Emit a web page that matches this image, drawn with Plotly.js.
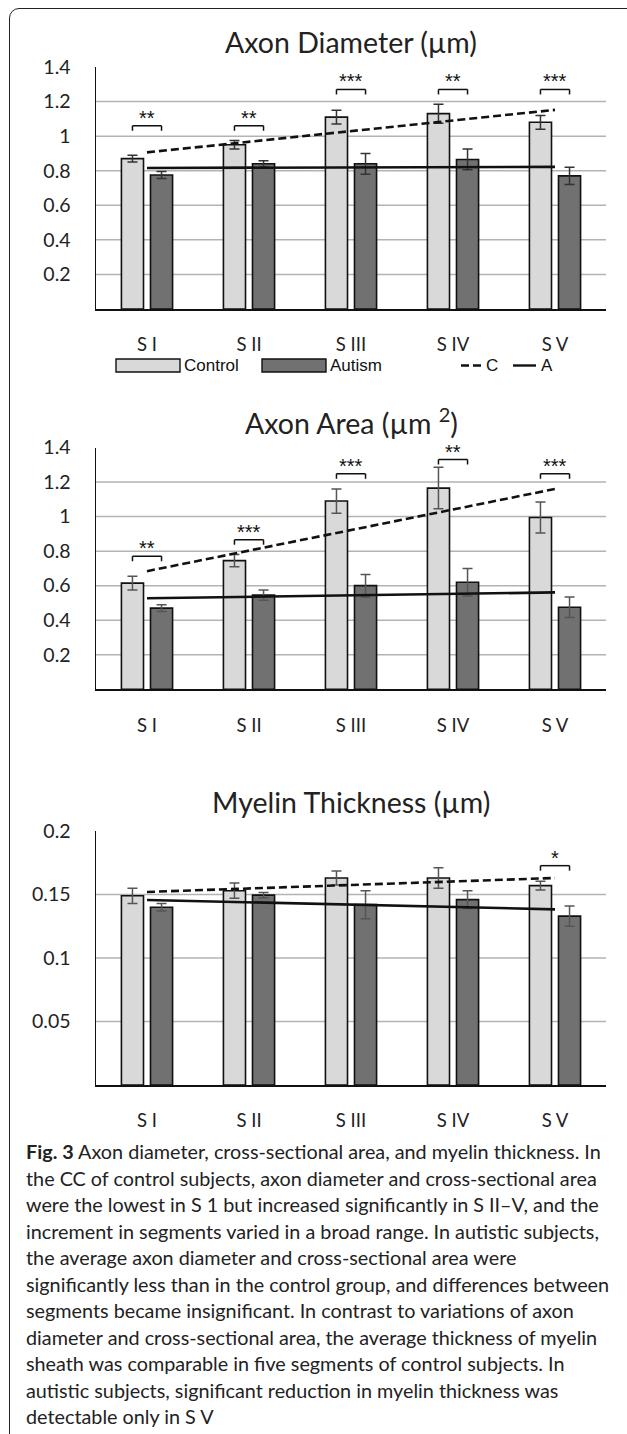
<!DOCTYPE html>
<html><head><meta charset="utf-8">
<script src="https://cdn.plot.ly/plotly-3.0.1.min.js"></script>
<style>
body{margin:0;background:#fff;}
#wrap{position:relative;width:627px;height:1434px;overflow:hidden;background:#fff;}
#chart{position:absolute;left:0;top:0;width:627px;height:1434px;}
#frame{position:absolute;left:9px;top:8px;width:640px;height:1440px;border:1.6px solid #222;border-radius:10px;pointer-events:none;}
#caption{position:absolute;left:26px;top:1138px;font-family:Lato,sans-serif;font-size:19.8px;line-height:26.5px;color:#222;white-space:nowrap;}
</style></head>
<body><div id="wrap"><div id="chart"></div>
<div id="caption"><b>Fig. 3</b> Axon diameter, cross-sectional area, and myelin thickness. In<br>the CC of control subjects, axon diameter and cross-sectional area<br>were the lowest in S 1 but increased significantly in S II–V, and the<br>increment in segments varied in a broad range. In autistic subjects,<br>the average axon diameter and cross-sectional area were<br>significantly less than in the control group, and differences between<br>segments became insignificant. In contrast to variations of axon<br>diameter and cross-sectional area, the average thickness of myelin<br>sheath was comparable in five segments of control subjects. In<br>autistic subjects, significant reduction in myelin thickness was<br>detectable only in S V</div>
<div id="frame"></div></div>
<script>
// ---- data ----
const segments = ["S I", "S II", "S III", "S IV", "S V"];

const diamControl    = [0.87, 0.95, 1.11, 1.13, 1.08];
const diamControlErr = [0.02, 0.025, 0.04, 0.055, 0.04];
const diamAutism     = [0.775, 0.84, 0.84, 0.865, 0.77];
const diamAutismErr  = [0.02, 0.018, 0.06, 0.06, 0.05];
const diamTrendC     = [0.906, 1.152];
const diamTrendA     = [0.816, 0.822];
const diamSig        = ["**", "**", "***", "**", "***"];
const diamSigY       = [1.06, 1.06, 1.27, 1.27, 1.27];

const areaControl    = [0.615, 0.745, 1.09, 1.165, 0.995];
const areaControlErr = [0.04, 0.035, 0.07, 0.12, 0.09];
const areaAutism     = [0.47, 0.545, 0.60, 0.62, 0.475];
const areaAutismErr  = [0.02, 0.03, 0.065, 0.08, 0.06];
const areaTrendC     = [0.684, 1.16];
const areaTrendA     = [0.527, 0.561];
const areaSig        = ["**", "***", "***", "**", "***"];
const areaSigY       = [0.77, 0.866, 1.248, 1.33, 1.248];

const myelinControl    = [0.149, 0.153, 0.163, 0.163, 0.157];
const myelinControlErr = [0.006, 0.006, 0.0055, 0.008, 0.0035];
const myelinAutism     = [0.140, 0.1495, 0.142, 0.146, 0.133];
const myelinAutismErr  = [0.003, 0.002, 0.011, 0.007, 0.008];
const myelinTrendC     = [0.152, 0.163];
const myelinTrendA     = [0.1457, 0.1383];
const myelinSig        = ["", "", "", "", "*"];
const myelinSigY       = [null, null, null, null, 0.1727];

const axonTicks     = [0.2, 0.4, 0.6, 0.8, 1.0, 1.2, 1.4];
const axonTickText  = ["0.2", "0.4", "0.6", "0.8", "1", "1.2", "1.4"];
const myelinTicks    = [0.05, 0.1, 0.15, 0.2];
const myelinTickText = ["0.05", "0.1", "0.15", "0.2"];

const titles = ["Axon Diameter (µm)", "Axon Area (µm <sup>2</sup>)", "Myelin Thickness (µm)"];
const legendNames = ["Control", "Autism", "C", "A"];

// ---- layout helpers ----
const W = 627, H = 1434;
const px = x => x / W;
const py = y => 1 - y / H;
const FONT = "Lato, sans-serif";
const BARGAP = 0.43;
const SHIFT = (1 - BARGAP) / 4;
const CTRL_FILL = "#d9d9d9", AUT_FILL = "#717171";

const traces = [];
const shapes = [];
const annotations = [];
const layout = {
  width: W, height: H,
  margin: {l: 0, r: 0, t: 0, b: 0},
  paper_bgcolor: "rgba(0,0,0,0)", plot_bgcolor: "rgba(0,0,0,0)",
  barmode: "group", bargap: BARGAP, bargroupgap: 0.24,
  showlegend: false,
  font: {family: FONT, color: "#222"},
  shapes: shapes, annotations: annotations
};

function addChart(i, d) {
  const sfx = i === 0 ? "" : String(i + 1);
  const xa = "x" + sfx, ya = "y" + sfx;
  layout["xaxis" + sfx] = {
    domain: [px(96), px(606)], anchor: ya, type: "category",
    showgrid: false, zeroline: false, showline: true, linecolor: "#111", linewidth: 2,
    ticks: "", ticklabelstandoff: 18, tickfont: {family: FONT, size: 18.5, color: "#222"},
    fixedrange: true
  };
  layout["yaxis" + sfx] = {
    domain: [py(d.bottomPx), py(d.topPx)], anchor: xa, range: d.range,
    showgrid: false, zeroline: false, showline: true, linecolor: "#111", linewidth: 1.5,
    ticks: "", tickmode: "array", tickvals: d.ticks, ticktext: d.tickText,
    ticklabelstandoff: 20, tickfont: {family: FONT, size: 19.5, color: "#222"},
    fixedrange: true
  };
  // gridlines (all ticks below the top of the axis)
  d.ticks.forEach(t => {
    if (t >= d.range[1] - 1e-9) return;
    shapes.push({type: "line", xref: xa + " domain", yref: ya, x0: 0, x1: 1, y0: t, y1: t,
      line: {color: "#b3b3b3", width: 1.5}, layer: "below"});
  });
  traces.push({
    type: "bar", name: legendNames[0], x: segments, y: d.control, xaxis: xa, yaxis: ya,
    marker: {color: CTRL_FILL, line: {color: "#111", width: 1.6}},
    error_y: {type: "data", array: d.controlErr, visible: true, color: d.errColor, thickness: 1.5, width: 5}
  });
  traces.push({
    type: "bar", name: legendNames[1], x: segments, y: d.autism, xaxis: xa, yaxis: ya,
    marker: {color: AUT_FILL, line: {color: "#111", width: 1.6}},
    error_y: {type: "data", array: d.autismErr, visible: true, color: d.errColor, thickness: 1.5, width: 5}
  });
  const ends = [segments[0], segments[segments.length - 1]];
  traces.push({type: "scatter", mode: "lines", name: legendNames[2], x: ends, y: d.trendC,
    xaxis: xa, yaxis: ya, line: {color: "#111", width: 2.6, dash: "8px,4px"}});
  traces.push({type: "scatter", mode: "lines", name: legendNames[3], x: ends, y: d.trendA,
    xaxis: xa, yaxis: ya, line: {color: "#111", width: 2.6}});
  // significance brackets
  segments.forEach((s, k) => {
    if (!d.sig[k]) return;
    const yv = d.sigY[k];
    const ln = {color: "#111", width: 1.5};
    shapes.push({type: "line", xref: xa, yref: ya, x0: s, x1: s, x0shift: -SHIFT, x1shift: SHIFT, y0: yv, y1: yv, line: ln});
    [-SHIFT, SHIFT].forEach(sh => {
      shapes.push({type: "line", xref: xa, yref: ya, x0: s, x1: s, x0shift: sh, x1shift: sh,
        ysizemode: "pixel", yanchor: yv, y0: 0, y1: -5, line: ln});
    });
    annotations.push({xref: xa, yref: ya, x: s, y: yv, yanchor: "bottom", showarrow: false,
      text: d.sig[k], yshift: -5, font: {family: "Liberation Sans, Arial, sans-serif", size: 20, color: "#111"}});
  });
  annotations.push({xref: "paper", yref: "paper", x: px(351), y: py(d.titleY), xanchor: "center", yanchor: "middle",
    showarrow: false, text: d.title, font: {family: FONT, size: 28.5, color: "#222"}});
}

addChart(0, {control: diamControl, controlErr: diamControlErr, autism: diamAutism, autismErr: diamAutismErr,
  trendC: diamTrendC, trendA: diamTrendA, sig: diamSig, sigY: diamSigY,
  ticks: axonTicks, tickText: axonTickText, range: [0, 1.4], topPx: 67, bottomPx: 309,
  title: titles[0], titleY: 42, errColor: "#333"});
addChart(1, {control: areaControl, controlErr: areaControlErr, autism: areaAutism, autismErr: areaAutismErr,
  trendC: areaTrendC, trendA: areaTrendA, sig: areaSig, sigY: areaSigY,
  ticks: axonTicks, tickText: axonTickText, range: [0, 1.4], topPx: 447.5, bottomPx: 689.3,
  title: titles[1], titleY: 421, errColor: "#555"});
addChart(2, {control: myelinControl, controlErr: myelinControlErr, autism: myelinAutism, autismErr: myelinAutismErr,
  trendC: myelinTrendC, trendA: myelinTrendA, sig: myelinSig, sigY: myelinSigY,
  ticks: myelinTicks, tickText: myelinTickText, range: [0, 0.2], topPx: 831, bottomPx: 1085,
  title: titles[2], titleY: 802, errColor: "#555"});

// ---- custom legend for the first chart ----
const LY = 365.5;
const legFont = {family: "Liberation Sans, Arial, sans-serif", size: 17, color: "#111"};
shapes.push({type: "rect", xref: "paper", yref: "paper", x0: px(116), x1: px(180), y0: py(372), y1: py(359),
  fillcolor: CTRL_FILL, line: {color: "#111", width: 1.4}});
annotations.push({xref: "paper", yref: "paper", x: px(182), y: py(LY), xanchor: "left", yanchor: "middle",
  showarrow: false, text: legendNames[0], font: legFont});
shapes.push({type: "rect", xref: "paper", yref: "paper", x0: px(262), x1: px(326), y0: py(372), y1: py(359),
  fillcolor: AUT_FILL, line: {color: "#111", width: 1.4}});
annotations.push({xref: "paper", yref: "paper", x: px(328), y: py(LY), xanchor: "left", yanchor: "middle",
  showarrow: false, text: legendNames[1], font: legFont});
shapes.push({type: "line", xref: "paper", yref: "paper", x0: px(461), x1: px(482), y0: py(LY), y1: py(LY),
  line: {color: "#111", width: 2.4, dash: "8px,4px"}});
annotations.push({xref: "paper", yref: "paper", x: px(484), y: py(LY), xanchor: "left", yanchor: "middle",
  showarrow: false, text: legendNames[2], font: legFont});
shapes.push({type: "line", xref: "paper", yref: "paper", x0: px(513), x1: px(536), y0: py(LY), y1: py(LY),
  line: {color: "#111", width: 2.4}});
annotations.push({xref: "paper", yref: "paper", x: px(539), y: py(LY), xanchor: "left", yanchor: "middle",
  showarrow: false, text: legendNames[3], font: legFont});

Plotly.newPlot("chart", traces, layout, {displayModeBar: false, staticPlot: true});
</script>
</body></html>
